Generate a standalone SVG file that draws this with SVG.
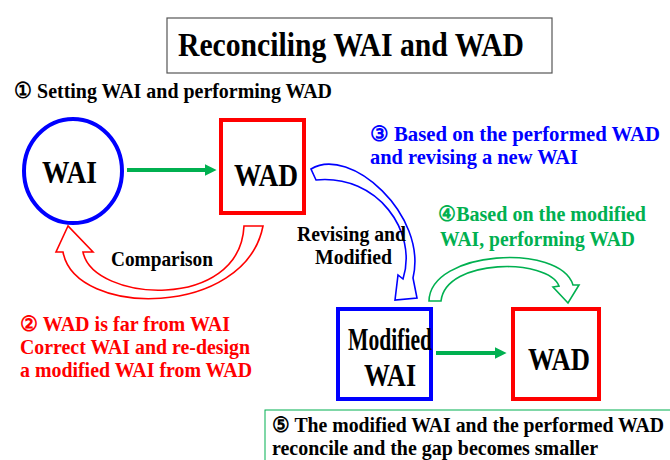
<svg xmlns="http://www.w3.org/2000/svg" width="670" height="460" viewBox="0 0 670 460">
<defs>
<style>
text{font-family:"Liberation Serif","Times New Roman",serif;font-weight:bold;}
.blk{fill:#000}
.red{fill:#FF0000}
.blue{fill:#0000FF}
.grn{fill:#00B050}
.node-b{fill:#fff;stroke:#0000FF;stroke-width:4}
.node-r{fill:#fff;stroke:#FF0000;stroke-width:4}
.big{font-size:31px}
.mid{font-size:21px}
.sm{font-size:20px}
.hollow{fill:#fff;stroke-width:1.6}
</style>
<marker id="ag" viewBox="0 0 10 10" refX="2" refY="5" markerWidth="3" markerHeight="3" orient="auto" markerUnits="strokeWidth">
<path d="M0,0 L10,5 L0,10 Z" fill="#00B050"/>
</marker>
</defs>
<rect width="670" height="460" fill="#fff"/>

<g id="title">
<rect x="167" y="18" width="385" height="55" fill="#fff" stroke="#555" stroke-width="1.2"/>
<text x="178" y="56" font-size="33" textLength="346" lengthAdjust="spacingAndGlyphs" class="blk">Reconciling WAI and WAD</text>
</g>

<g id="wai">
<ellipse cx="73" cy="171" rx="49" ry="52" class="node-b"/>
<text x="42" y="183" class="blk big" textLength="55" lengthAdjust="spacingAndGlyphs">WAI</text>
</g>

<g id="wad1">
<rect x="221" y="120" width="83" height="93" class="node-r"/>
<text x="234" y="186" class="blk big" textLength="64" lengthAdjust="spacingAndGlyphs">WAD</text>
</g>

<g id="modwai">
<rect x="338" y="309" width="93" height="90" class="node-b"/>
<text x="348" y="350" class="blk big" textLength="84" lengthAdjust="spacingAndGlyphs">Modified</text>
<text x="364" y="386" class="blk big" textLength="52" lengthAdjust="spacingAndGlyphs">WAI</text>
</g>

<g id="wad2">
<rect x="513" y="309" width="86" height="90" class="node-r"/>
<text x="528" y="370" class="blk big" textLength="62" lengthAdjust="spacingAndGlyphs">WAD</text>
</g>

<g id="connectors">
<line x1="127" y1="170" x2="207" y2="170" stroke="#00B050" stroke-width="4" marker-end="url(#ag)"/>
<line x1="436" y1="353" x2="497" y2="353" stroke="#00B050" stroke-width="4" marker-end="url(#ag)"/>
<path class="hollow" stroke="#FF0000" d="M68,226 L56,252 L63,252 C75,318 245,318 263,226 L244,226 C240,312 93,302 83,252 L93,252 Z"/>
<path class="hollow" stroke="#0000FF" d="M311,169 C350,145 428,215 413,278 L417,298 L395,300 L398,275 L403,279 C418,232 378,174 316,180 Z"/>
<path class="hollow" stroke="#00B050" d="M429,301 C430,250 560,243 573,285 L579,285 L568,303 L553,287 L559,286 C548,258 446,258 441,301 Z"/>
</g>

<g id="labels">
<text x="14" y="98" class="blk" font-size="22" textLength="318" lengthAdjust="spacingAndGlyphs">① Setting WAI and performing WAD</text>
<text x="370" y="141" class="blue mid" textLength="290" lengthAdjust="spacingAndGlyphs">③ Based on the performed WAD</text>
<text x="370" y="164" class="blue mid" textLength="208" lengthAdjust="spacingAndGlyphs">and revising a new WAI</text>
<text x="297" y="241" class="blk sm" textLength="109" lengthAdjust="spacingAndGlyphs">Revising and</text>
<text x="315" y="264" class="blk sm" textLength="77" lengthAdjust="spacingAndGlyphs">Modified</text>
<text x="111" y="266" class="blk sm" textLength="102" lengthAdjust="spacingAndGlyphs">Comparison</text>
<text x="438" y="221" class="grn mid" textLength="208" lengthAdjust="spacingAndGlyphs">④Based on the modified</text>
<text x="440" y="246" class="grn mid" textLength="195" lengthAdjust="spacingAndGlyphs">WAI, performing WAD</text>
<text x="20" y="331" class="red mid" textLength="210" lengthAdjust="spacingAndGlyphs">② WAD is far from WAI</text>
<text x="20" y="354" class="red mid" textLength="230" lengthAdjust="spacingAndGlyphs">Correct WAI and re-design</text>
<text x="20" y="377" class="red mid" textLength="232" lengthAdjust="spacingAndGlyphs">a modified WAI from WAD</text>
</g>

<g id="note5">
<rect x="265" y="410" width="420" height="60" fill="#fff" stroke="#00B050" stroke-width="1"/>
<text x="272" y="432" class="blk" font-size="21" textLength="392" lengthAdjust="spacingAndGlyphs">⑤ The modified WAI and the performed WAD</text>
<text x="272" y="455" class="blk" font-size="21" textLength="326" lengthAdjust="spacingAndGlyphs">reconcile and the gap becomes smaller</text>
</g>
</svg>
